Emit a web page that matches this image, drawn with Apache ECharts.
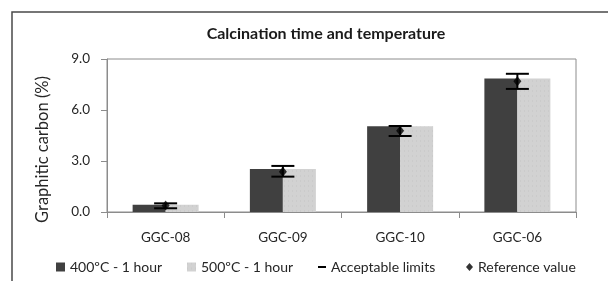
<!DOCTYPE html>
<html>
<head>
<meta charset="utf-8">
<script src="https://cdn.jsdelivr.net/npm/echarts@6/dist/echarts.min.js"></script>
<style>
  html, body { margin: 0; padding: 0; background: #fff; }
  #chart { width: 608px; height: 281px; }
</style>
</head>
<body>
<div id="chart"></div>
<script>
// data
const categories = ['GGC-08', 'GGC-09', 'GGC-10', 'GGC-06'];
const temp400 = [0.42, 2.53, 5.04, 7.86];
const temp500 = [0.42, 2.53, 5.04, 7.86];
const limitLow = [0.22, 2.08, 4.47, 7.24];
const limitHigh = [0.51, 2.71, 5.06, 8.13];
const refValue = [0.38, 2.37, 4.78, 7.69];
const yTicks = [0, 3, 9];

const font = 'Lato';
const textColor = '#262626';

const chart = echarts.init(document.getElementById('chart'));

const limitData = categories.map(function (c, i) { return [i, limitLow[i], limitHigh[i]]; });

function renderLimits(params, api) {
  const lo = api.coord([api.value(0), api.value(1)]);
  const hi = api.coord([api.value(0), api.value(2)]);
  const half = 11.5;
  const style = { stroke: '#000', lineWidth: 2 };
  return {
    type: 'group',
    children: [
      { type: 'line', shape: { x1: lo[0], y1: lo[1], x2: hi[0], y2: hi[1] }, style: style },
      { type: 'line', shape: { x1: hi[0] - half, y1: hi[1], x2: hi[0] + half, y2: hi[1] }, style: style },
      { type: 'line', shape: { x1: lo[0] - half, y1: lo[1], x2: lo[0] + half, y2: lo[1] }, style: style }
    ]
  };
}

const legendText = { fontFamily: font, fontSize: 14, color: textColor };

const option = {
  animation: false,
  backgroundColor: '#fff',
  title: {
    text: 'Calcination time and temperature',
    left: 321,
    top: 21,
    textAlign: 'center',
    textStyle: { fontFamily: font, fontSize: 16, fontWeight: 'bold', color: '#1a1a1a' }
  },
  graphic: [{
    type: 'rect',
    shape: { x: 12, y: 12, width: 700, height: 400 },
    style: { fill: 'none', stroke: '#4a4a4a', lineWidth: 1.5 },
    silent: true
  }],
  legend: [
    {
      data: [{ name: '400ºC - 1 hour', icon: 'rect' }],
      left: 51, top: 255, itemWidth: 9, itemHeight: 9, textStyle: legendText
    },
    {
      data: [{ name: '500ºC - 1 hour', icon: 'rect' }],
      left: 182, top: 255, itemWidth: 9, itemHeight: 9, textStyle: legendText
    },
    {
      data: [{ name: 'Acceptable limits', icon: 'rect' }],
      left: 313, top: 255, itemWidth: 8, itemHeight: 2, textStyle: legendText
    },
    {
      data: [{ name: 'Reference value', icon: 'diamond' }],
      left: 461, top: 255, itemWidth: 7, itemHeight: 8, textStyle: legendText
    }
  ],
  grid: {
    left: 107, right: 32, top: 59, bottom: 69,
    show: true, borderColor: '#8c8c8c', borderWidth: 1
  },
  xAxis: {
    type: 'category',
    data: categories,
    axisLine: { lineStyle: { color: '#8c8c8c', width: 1 } },
    axisTick: { show: true, length: 6, lineStyle: { color: '#8c8c8c' } },
    axisLabel: { margin: 19, fontFamily: font, fontSize: 13.5, color: textColor }
  },
  yAxis: {
    type: 'value',
    min: 0, max: 9, interval: yTicks[1] - yTicks[0],
    name: 'Graphitic carbon (%)',
    nameLocation: 'middle',
    nameGap: 56,
    nameTextStyle: { fontFamily: font, fontSize: 16.5, color: textColor, padding: [0, 28, 0, 0] },
    axisLine: { show: true, lineStyle: { color: '#8c8c8c', width: 1 } },
    axisTick: { show: true, length: 6, lineStyle: { color: '#8c8c8c' } },
    axisLabel: {
      margin: 17, fontFamily: font, fontSize: 13.5, color: textColor,
      formatter: function (v) { return v.toFixed(1); }
    },
    splitLine: { show: false }
  },
  series: [
    {
      name: '400ºC - 1 hour',
      type: 'bar',
      data: temp400,
      barWidth: 33,
      barGap: '0%',
      itemStyle: { color: '#404040' }
    },
    {
      name: '500ºC - 1 hour',
      type: 'bar',
      data: temp500,
      barWidth: 33,
      itemStyle: {
        color: '#d2d2d2',
        decal: {
          symbol: 'rect',
          symbolSize: 0.6,
          color: 'rgba(150,150,150,0.35)',
          dashArrayX: [1, 3],
          dashArrayY: [2, 3]
        }
      }
    },
    {
      name: 'Acceptable limits',
      type: 'custom',
      renderItem: renderLimits,
      data: limitData,
      itemStyle: { color: '#000' },
      z: 5
    },
    {
      name: 'Reference value',
      type: 'scatter',
      data: refValue,
      symbol: 'diamond',
      symbolSize: [8, 10],
      itemStyle: { color: '#000' },
      z: 6
    }
  ]
};

chart.setOption(option);
</script>
</body>
</html>
